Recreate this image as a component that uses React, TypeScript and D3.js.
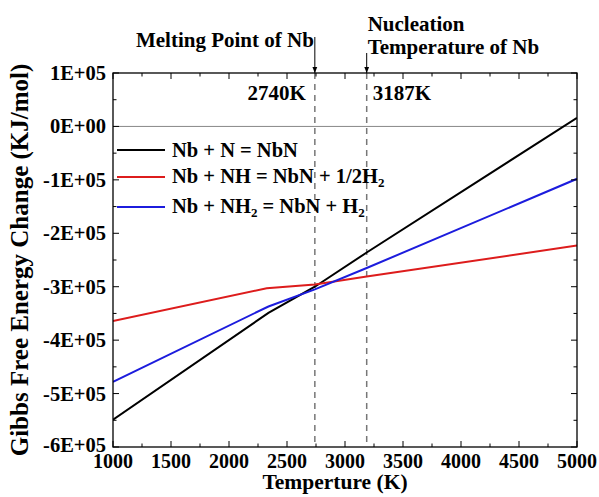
import React from "react";
import * as d3 from "d3";

const tempNbN = [1000, 2340, 2740, 3187, 5000];
const gNbN = [-5.49e5, -3.49e5, -3.0e5, -2.36e5, 0.16e5];
const tempNH = [1000, 2325, 2740, 3187, 5000];
const gNH = [-3.64e5, -3.03e5, -2.96e5, -2.81e5, -2.23e5];
const tempNH2 = [1000, 2340, 2740, 3187, 5000];
const gNH2 = [-4.78e5, -3.37e5, -3.05e5, -2.65e5, -0.98e5];
const xTicks = [1000, 1500, 2000, 2500, 3000, 3500, 4000, 4500, 5000];
const yTicks = [1e5, 0, -1e5, -2e5, -3e5, -4e5, -5e5, -6e5];
const yTickLabels = ["1E+05", "0E+00", "-1E+05", "-2E+05", "-3E+05", "-4E+05", "-5E+05", "-6E+05"];
const markers = [2740, 3187];

const W = 599, H = 497;
const L = 113, R = 577, T = 73, B = 447;
const font = "'Times New Roman', 'Liberation Serif', 'DejaVu Serif', serif";

export default function App() {
  const x = d3.scaleLinear().domain([1000, 5000]).range([L, R]);
  const y = d3.scaleLinear().domain([-6e5, 1e5]).range([B, T]);
  const line = d3.line<[number, number]>().x(d => x(d[0])).y(d => y(d[1]));
  const series = [
    { t: tempNbN, g: gNbN, color: "#000000" },
    { t: tempNH, g: gNH, color: "#dd1c1c" },
    { t: tempNH2, g: gNH2, color: "#1c1cdd" },
  ];
  const minorX = d3.range(1250, 5000, 500);
  const minorY = d3.range(-5.5e5, 1e5, 1e5);
  const tick = 6, mtick = 3.5;
  return (
    <svg width={W} height={H} style={{ position: "absolute", left: 0, top: 0, background: "#fff", fontFamily: font, fontWeight: "bold" }}>
      <defs>
        <clipPath id="plot"><rect x={L} y={T} width={R - L} height={B - T} /></clipPath>
        <marker id="arr" viewBox="0 0 10 10" refX="10" refY="5" markerWidth="6" markerHeight="6" orient="auto">
          <path d="M0,1 L10,5 L0,9 z" fill="#000" />
        </marker>
      </defs>
      <line x1={L} x2={R} y1={y(0)} y2={y(0)} stroke="#888" strokeWidth={1} />
      {markers.map(m => (
        <line key={m} x1={x(m)} x2={x(m)} y1={T} y2={B} stroke="#777" strokeWidth={1.5} strokeDasharray="6,5" />
      ))}
      <g clipPath="url(#plot)">
        {series.map((s, i) => (
          <path key={i} d={line(s.t.map((t, j) => [t, s.g[j]] as [number, number])) || ""} fill="none" stroke={s.color} strokeWidth={2} />
        ))}
      </g>
      <rect x={L} y={T} width={R - L} height={B - T} fill="none" stroke="#000" strokeWidth={1.3} />
      {xTicks.map(t => (
        <g key={t}>
          <line x1={x(t)} x2={x(t)} y1={B} y2={B - tick} stroke="#000" />
          <line x1={x(t)} x2={x(t)} y1={T} y2={T + tick} stroke="#000" />
          <text x={x(t)} y={468} textAnchor="middle" fontSize={20}>{t}</text>
        </g>
      ))}
      {minorX.map(t => (
        <g key={t}>
          <line x1={x(t)} x2={x(t)} y1={B} y2={B - mtick} stroke="#000" />
          <line x1={x(t)} x2={x(t)} y1={T} y2={T + mtick} stroke="#000" />
        </g>
      ))}
      {yTicks.map((v, i) => (
        <g key={v}>
          <line x1={L} x2={L + tick} y1={y(v)} y2={y(v)} stroke="#000" />
          <line x1={R} x2={R - tick} y1={y(v)} y2={y(v)} stroke="#000" />
          <text x={L - 7} y={y(v) + (i === yTicks.length - 1 ? 5 : 7)} textAnchor="end" fontSize={20.5}>{yTickLabels[i]}</text>
        </g>
      ))}
      {minorY.map(v => (
        <g key={v}>
          <line x1={L} x2={L + mtick} y1={y(v)} y2={y(v)} stroke="#000" />
          <line x1={R} x2={R - mtick} y1={y(v)} y2={y(v)} stroke="#000" />
        </g>
      ))}
      <text x={335} y={489} textAnchor="middle" fontSize={21.5}>Temperture (K)</text>
      <text transform={`translate(28,${(T + B) / 2}) rotate(-90)`} textAnchor="middle" fontSize={25}>Gibbs Free Energy Change (KJ/mol)</text>
      <g fontSize={20.5}>
        <line x1={117} x2={165} y1={150} y2={150} stroke="#000" strokeWidth={2} />
        <text x={172} y={157}>Nb + N = NbN</text>
        <line x1={117} x2={165} y1={177} y2={177} stroke="#dd1c1c" strokeWidth={2} />
        <text x={172} y={183}>Nb + NH = NbN + 1/2H<tspan fontSize={13} dy={4}>2</tspan></text>
        <line x1={117} x2={165} y1={207} y2={207} stroke="#1c1cdd" strokeWidth={2} />
        <text x={172} y={213}>Nb + NH<tspan fontSize={13} dy={4}>2</tspan><tspan dy={-4}> = NbN + H</tspan><tspan fontSize={13} dy={4}>2</tspan></text>
      </g>
      <g fontSize={21}>
        <text x={x(2740) - 9} y={100} textAnchor="end">2740K</text>
        <text x={x(3187) + 6} y={100}>3187K</text>
        <text x={x(2740) - 1} y={47} textAnchor="end">Melting Point of Nb</text>
        <text x={x(3187) + 1} y={31}>Nucleation</text>
        <text x={x(3187) + 1} y={54}>Temperature of Nb</text>
      </g>
      <line x1={x(2740)} x2={x(2740)} y1={37} y2={T} stroke="#000" strokeWidth={1} markerEnd="url(#arr)" />
      <line x1={x(3187)} x2={x(3187)} y1={53} y2={T} stroke="#000" strokeWidth={1} markerEnd="url(#arr)" />
    </svg>
  );
}
